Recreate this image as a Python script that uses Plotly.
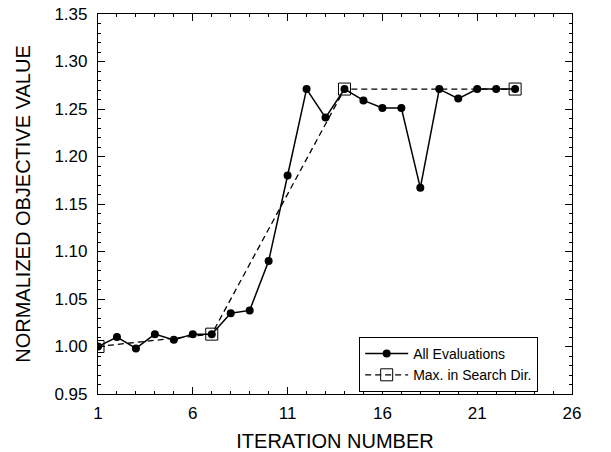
import plotly.graph_objects as go

iterations = list(range(1, 24))
all_evals = [1.000, 1.010, 0.998, 1.013, 1.007, 1.013, 1.013, 1.035, 1.038, 1.090,
             1.180, 1.271, 1.241, 1.271, 1.259, 1.251, 1.251, 1.167, 1.271, 1.261,
             1.271, 1.271, 1.271]
max_iters = [1, 7, 14, 23]
max_vals = [1.000, 1.013, 1.271, 1.271]

fig = go.Figure()
fig.add_trace(go.Scatter(x=iterations, y=all_evals, mode="lines+markers",
                         name="All Evaluations",
                         line=dict(color="black", width=1.5),
                         marker=dict(symbol="circle", size=8, color="black")))
fig.add_trace(go.Scatter(x=max_iters, y=max_vals, mode="lines+markers",
                         name="Max. in Search Dir.",
                         line=dict(color="black", width=1.3, dash="6px,4px"),
                         marker=dict(symbol="square-open", size=12, color="black",
                                     line=dict(width=1))))

axis_common = dict(showline=True, linecolor="black", linewidth=1.2, mirror="ticks",
                   ticks="inside", ticklen=7, tickcolor="black", showgrid=False,
                   zeroline=False, automargin=False, ticklabeloverflow="allow",
                   tickfont=dict(size=17, color="black"))
fig.update_xaxes(range=[1, 26], tick0=1, dtick=5, ticklabelstandoff=3,
                 minor=dict(dtick=1, ticks="inside", ticklen=3, tickcolor="black"),
                 title=dict(text="ITERATION NUMBER", font=dict(size=20, color="black"), standoff=12),
                 **axis_common)
fig.update_yaxes(range=[0.95, 1.35], tick0=0.95, dtick=0.05, tickformat=".2f",
                 ticklabelstandoff=6,
                 minor=dict(dtick=0.01, ticks="inside", ticklen=3, tickcolor="black"),
                 title=dict(text="NORMALIZED OBJECTIVE VALUE", font=dict(size=20, color="black"), standoff=18),
                 **axis_common)

fig.update_layout(
    width=611, height=452,
    margin=dict(l=98, r=39, t=14, b=58),
    paper_bgcolor="white", plot_bgcolor="white",
    font=dict(family="Liberation Sans, Arial, sans-serif", color="black"),
    showlegend=True,
    legend=dict(x=0.551, y=0.15, xanchor="left", yanchor="top",
                bordercolor="black", borderwidth=1, bgcolor="white",
                font=dict(size=14), tracegroupgap=0, itemwidth=43),
)

fig.write_html("out.html", config={"displayModeBar": False},
               post_script="document.body.style.margin='0';")
